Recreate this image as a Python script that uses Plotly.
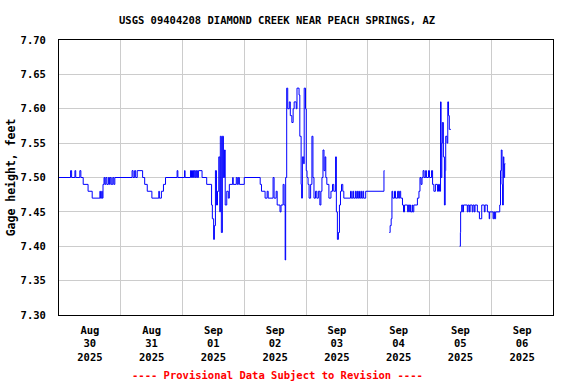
import pandas as pd
import plotly.graph_objects as go

TITLE = "USGS 09404208 DIAMOND CREEK NEAR PEACH SPRINGS, AZ"
Y_TITLE = "Gage height, feet"
FOOTER = "---- Provisional Data Subject to Revision ----"
START = "2025-08-30 00:00"

# hours after START, and gage height (feet); None marks gaps in the record
hours = [
    # Aug 30
    0, 4.5, 4.9, 6.2, 6.5, 8.1, 8.5, 9.4, 11.3, 12.9, 15.9, 16.1, 16.6, 16.8, 17.1, 17.5,
    17.8, 18.2, 18.6, 19.2, 19.6, 19.9, 20.3, 20.9, 21.3, 21.7,
    # Aug 31
    28.4, 28.8, 29.4, 29.8, 30.4, 32.5, 33.3, 34.3, 36.1, 38.8, 39.0, 39.8, 40.6, 41.4, 45.9, 46.2,
    # Sep 01
    48.8, 49.0, 51.1, 51.5, 51.9, 52.3, 52.6, 53.0, 53.4, 53.8, 54.2, 55.6, 57.4, 59.3, 59.6,
    60.1, 60.4, 60.8, 61.2, 61.6, 62.1, 62.5, 62.7, 63.1, 63.5, 63.9, 64.3, 64.6, 65.2, 65.8,
    66.2, 67.5, 67.7, 68.9, 69.3, 69.7, 70.1, 72.0,
    # Sep 02
    78.2, 78.7, 80.1, 80.9, 81.3, 83.2, 83.6, 84.4, 84.8, 85.9, 86.3, 87.1, 87.5, 87.9, 88.1,
    88.5, 88.9, 89.5, 89.9, 90.5, 91.0, 91.4, 92.2, 92.5, 93.3, 93.6, 94.1, 94.3, 94.6, 95.1,
    95.3, 95.8,
    # Sep 03
    96.1, 96.4, 96.8, 97.2, 97.8, 98.3, 98.7, 99.1, 99.7, 100.2, 100.8, 101.4, 101.8, 102.2,
    102.6, 103.0, 103.4, 103.7, 104.1, 104.9, 105.7, 106.3, 106.8, 107.5, 107.8, 108.2, 108.6,
    109.0, 109.4, 109.8, 110.3, 110.7, 113.3, 113.6, 114.2, 114.5, 115.2, 115.5, 115.9, 116.1,
    116.5, 116.8, 117.3, 117.6, 118.1, 118.4, 119.2,
    # Sep 04
    126.3, 126.5, 127.0,
    128.4, 128.7, 129.1, 129.4, 129.7, 130.4, 130.8, 131.6, 132.0, 132.4, 132.8, 133.5, 133.9,
    134.3, 135.5, 135.8, 136.3, 136.5, 136.7, 137.3, 137.5, 137.9, 139.3, 139.9, 140.3, 140.7,
    141.1, 141.5, 141.9, 142.5, 142.8, 143.6,
    # Sep 05
    144.0, 144.8, 145.2, 145.7, 146.3, 147.1, 147.5, 147.9, 148.3, 148.5, 148.8, 149.0, 149.4,
    149.8, 150.1, 150.3, 150.8, 151.1, 151.4, 151.7, 152.3, 153.0,
    155.7, 156.0, 156.1, 156.5, 156.9, 157.2, 158.7, 159.0, 159.5, 159.8, 160.6, 160.9, 161.4,
    161.7, 162.6, 163.4, 164.3, 165.3, 165.6, 166.5, 167.2, 167.4,
    # Sep 06
    168.7, 169.0, 169.3, 169.7, 171.3, 171.6, 171.9, 172.2, 172.4, 172.7, 172.9, 173.2, 173.5,
]

stage = [
    # Aug 30
    7.50, 7.51, 7.50, 7.51, 7.50, 7.51, 7.50, 7.49, 7.48, 7.47, 7.48, 7.47, 7.48, 7.47, 7.49, 7.50,
    7.49, 7.50, 7.49, 7.50, 7.49, 7.50, 7.49, 7.50, 7.49, 7.50,
    # Aug 31
    7.51, 7.50, 7.51, 7.50, 7.51, 7.50, 7.49, 7.48, 7.47, 7.48, 7.47, 7.48, 7.49, 7.50, 7.51, 7.50,
    # Sep 01
    7.51, 7.50, 7.51, 7.50, 7.51, 7.50, 7.51, 7.50, 7.51, 7.50, 7.51, 7.50, 7.49, 7.46, 7.44,
    7.41, 7.43, 7.51, 7.46, 7.48, 7.53, 7.45, 7.56, 7.42, 7.56, 7.50, 7.54, 7.46, 7.48, 7.47,
    7.49, 7.50, 7.49, 7.50, 7.49, 7.50, 7.49, 7.50,
    # Sep 02
    7.49, 7.48, 7.47, 7.48, 7.47, 7.50, 7.47, 7.48, 7.46, 7.45, 7.46, 7.49, 7.46, 7.38, 7.50,
    7.63, 7.60, 7.61, 7.59, 7.58, 7.60, 7.61, 7.60, 7.63, 7.62, 7.56, 7.49, 7.47, 7.53, 7.52,
    7.63, 7.60,
    # Sep 03
    7.51, 7.50, 7.49, 7.47, 7.49, 7.56, 7.50, 7.47, 7.48, 7.47, 7.48, 7.46, 7.48, 7.50,
    7.54, 7.51, 7.53, 7.50, 7.49, 7.47, 7.48, 7.49, 7.48, 7.53, 7.45, 7.41, 7.42,
    7.46, 7.48, 7.49, 7.48, 7.47, 7.48, 7.47, 7.48, 7.47, 7.48, 7.47, 7.48, 7.47,
    7.48, 7.47, 7.48, 7.47, 7.48, 7.47, 7.48,
    # Sep 04
    7.51, 7.51, None,
    7.42, 7.43, 7.44, 7.48, 7.47, 7.48, 7.47, 7.48, 7.47, 7.48, 7.47, 7.46, 7.45,
    7.46, 7.45, 7.46, 7.45, 7.46, 7.45, 7.46, 7.45, 7.46, 7.47, 7.48, 7.50, 7.49,
    7.50, 7.51, 7.50, 7.51, 7.50, 7.51,
    # Sep 05
    7.50, 7.51, 7.49, 7.48, 7.49, 7.48, 7.49, 7.48, 7.61, 7.50, 7.55, 7.58, 7.53,
    7.46, 7.51, 7.56, 7.55, 7.61, 7.59, 7.57, 7.57, None,
    7.40, 7.42, 7.45, 7.46, 7.45, 7.46, 7.45, 7.46, 7.45, 7.46, 7.45, 7.46, 7.45,
    7.46, 7.45, 7.44, 7.46, 7.45, 7.46, 7.45, 7.44, 7.45,
    # Sep 06
    7.44, 7.45, 7.44, 7.45, 7.46, 7.51, 7.54, 7.49, 7.46, 7.53, 7.50, 7.52, 7.52,
]

day_labels = ["Aug<br>30<br>2025", "Aug<br>31<br>2025", "Sep<br>01<br>2025", "Sep<br>02<br>2025",
              "Sep<br>03<br>2025", "Sep<br>04<br>2025", "Sep<br>05<br>2025", "Sep<br>06<br>2025"]
y_ticks = [7.30, 7.35, 7.40, 7.45, 7.50, 7.55, 7.60, 7.65, 7.70]

start = pd.Timestamp(START)
times = [start + pd.Timedelta(hours=h) for h in hours]
midnights = [start + pd.Timedelta(days=d) for d in range(9)]
noons = [start + pd.Timedelta(hours=12 + 24 * d) for d in range(len(day_labels))]

MONO = "DejaVu Sans Mono"

fig = go.Figure()
fig.add_trace(go.Scatter(
    x=times, y=stage, mode="lines", line=dict(color="#0000ff", width=1, shape="hv"),
    connectgaps=False, showlegend=False,
))

fig.update_layout(
    width=576, height=384,
    margin=dict(l=59, r=23, t=40, b=69, autoexpand=False),
    paper_bgcolor="white", plot_bgcolor="white",
    font=dict(family=MONO, size=10.5, color="black", weight="bold"),
    annotations=[
        dict(text=TITLE, xref="paper", yref="paper", x=0.4423, y=1, yshift=20,
             xanchor="center", yanchor="middle", showarrow=False,
             font=dict(family=MONO, size=10.5, color="black", weight="bold")),
        dict(text=FOOTER, xref="paper", yref="paper", x=0.4423, y=0, yshift=-60,
             xanchor="center", yanchor="middle", showarrow=False,
             font=dict(family=MONO, size=10.5, color="red", weight="bold")),
    ],
)

fig.update_xaxes(
    range=[midnights[0], midnights[-1]], automargin=False,
    tickmode="array", tickvals=noons, ticktext=day_labels, ticks="",
    showgrid=False, zeroline=False,
    showline=True, linecolor="black", linewidth=1, mirror=True,
    minor=dict(tickmode="array", tickvals=midnights, showgrid=True, gridcolor="#cccccc",
               gridwidth=1, ticks=""),
    ticklabelstandoff=5,
)
fig.update_yaxes(
    range=[7.30, 7.70], automargin=False, tickmode="array", tickvals=y_ticks,
    tickformat=".2f", ticks="",
    showgrid=True, gridcolor="#cccccc", gridwidth=1, zeroline=False,
    showline=True, linecolor="black", linewidth=1, mirror=True,
    title=dict(text=Y_TITLE, standoff=2, font=dict(family=MONO, size=11.5, weight="bold")),
    ticklabelstandoff=10,
)

fig.write_html("out.html", config={"displayModeBar": False},
               post_script="document.body.style.margin='0';")
